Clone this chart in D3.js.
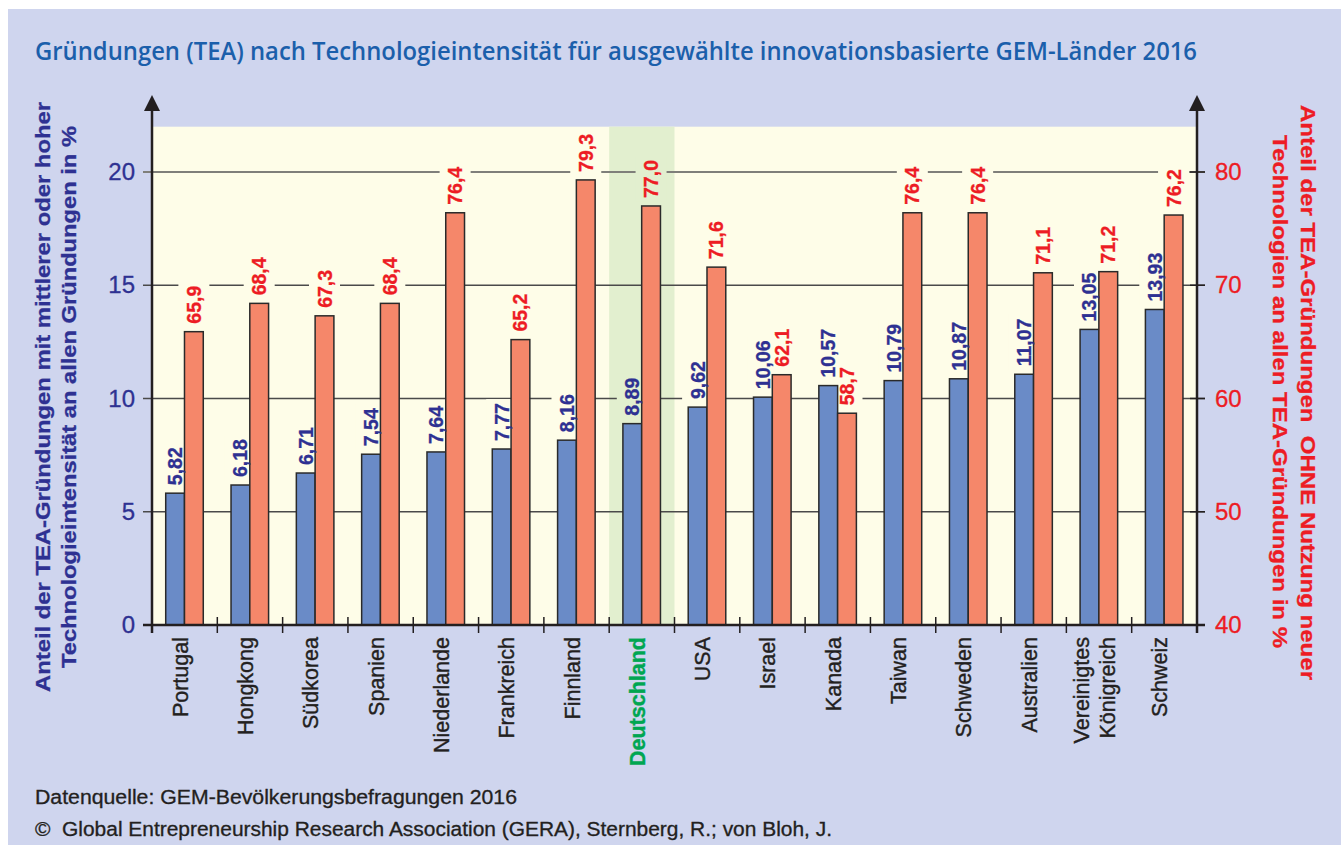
<!DOCTYPE html>
<html>
<head>
<meta charset="utf-8">
<script src="https://cdn.jsdelivr.net/npm/d3@7"></script>
<style>
  body { margin: 0; background: #fff; }
  svg { display: block; font-family: "Liberation Sans", Arial, sans-serif; }
</style>
</head>
<body>
<script>
// data
const countries = ["Portugal", "Hongkong", "Südkorea", "Spanien", "Niederlande", "Frankreich", "Finnland",
  "Deutschland", "USA", "Israel", "Kanada", "Taiwan", "Schweden", "Australien", "Vereinigtes Königreich", "Schweiz"];
const techShare = [5.82, 6.18, 6.71, 7.54, 7.64, 7.77, 8.16, 8.89, 9.62, 10.06, 10.57, 10.79, 10.87, 11.07, 13.05, 13.93];
const noNewTech = [65.9, 68.4, 67.3, 68.4, 76.4, 65.2, 79.3, 77.0, 71.6, 62.1, 58.7, 76.4, 76.4, 71.1, 71.2, 76.2];
const leftTicks = [0, 5, 10, 15, 20];
const rightTicks = [40, 50, 60, 70, 80];
const highlight = "Deutschland";

const W = 1341, H = 845;
const panelBg = "#cfd5ee", plotBg = "#fefde8", bandBg = "#e2efcf";
const blue = "#6a8bc7", red = "#f5876a", navy = "#2e3192", redText = "#ed1c24", ink = "#231f20";

const svg = d3.select("body").append("svg").attr("width", W).attr("height", H);

const x = d3.scaleBand().domain(countries).range([152, 1197]);
const yL = d3.scaleLinear().domain([0, 22]).range([625, 126.7]);
const yR = d3.scaleLinear().domain([40, 84]).range([625, 126.7]);
const bw = x.bandwidth();
const sub = d3.scaleBand().domain(["tech", "none"]).range([bw * 0.21, bw * 0.785]);

const fmt = (v, n) => v.toFixed(n).replace(".", ",");

// background
svg.append("rect").attr("x", 8).attr("y", 9).attr("width", W - 8).attr("height", H - 9).attr("fill", panelBg);
svg.append("rect").attr("x", 152).attr("y", yL(22)).attr("width", 1197 - 152).attr("height", yL(0) - yL(22)).attr("fill", plotBg);
svg.append("rect").attr("x", x(highlight)).attr("y", yL(22)).attr("width", bw).attr("height", yL(0) - yL(22)).attr("fill", bandBg);

// title
svg.append("text")
  .attr("x", 35).attr("y", 60)
  .attr("textLength", 1162).attr("lengthAdjust", "spacingAndGlyphs")
  .style("font-family", "'Open Sans', 'Noto Sans', sans-serif")
  .style("font-size", "25px").style("font-weight", 600).attr("fill", "#1b5fab")
  .text("Gründungen (TEA) nach Technologieintensität für ausgewählte innovationsbasierte GEM-Länder 2016");

// gridlines
svg.append("g").selectAll("line").data(leftTicks.filter(d => d > 0)).join("line")
  .attr("x1", 143).attr("x2", 1205)
  .attr("y1", d => yL(d)).attr("y2", d => yL(d))
  .attr("stroke", d => d === 20 ? "#7f7f7a" : "#4a4a4a")
  .attr("stroke-width", d => d === 20 ? 2 : 1.5);

// series layout
const series = [
  {key: "tech", values: techShare, y: yL, fill: blue, text: navy, dec: 2},
  {key: "none", values: noNewTech, y: yR, fill: red, text: redText, dec: 1}
];
const labelSize = 19.5;
const marks = [];
series.forEach(s => {
  countries.forEach((c, i) => {
    const v = s.values[i];
    const label = fmt(v, s.dec);
    marks.push({
      c, v, s, label,
      x0: x(c) + sub(s.key),
      cx: x(c) + sub(s.key) + sub.bandwidth() / 2,
      top: s.y(v),
      len: label.length * 0.556 * labelSize - (0.556 - 0.278) * labelSize
    });
  });
});

// halos behind value labels (cut the gridlines)
svg.append("g").selectAll("rect").data(marks).join("rect")
  .attr("x", d => d.cx - 15.5)
  .attr("width", 31)
  .attr("y", d => d.top - 8 - d.len - 4)
  .attr("height", d => d.len + 8)
  .attr("fill", d => d.c === highlight ? bandBg : plotBg);

// bars
svg.append("g").selectAll("rect").data(marks).join("rect")
  .attr("x", d => d.x0)
  .attr("width", sub.bandwidth())
  .attr("y", d => d.top)
  .attr("height", d => yL(0) - d.top)
  .attr("fill", d => d.s.fill)
  .attr("stroke", "#2a2a2a").attr("stroke-width", 1.5);

// value labels
svg.append("g").selectAll("text").data(marks).join("text")
  .attr("transform", d => `translate(${d.cx + 7},${d.top - 8}) rotate(-90)`)
  .style("font-size", labelSize + "px").style("font-weight", "bold")
  .attr("fill", d => d.s.text)
  .attr("stroke", d => d.s.text).attr("stroke-width", 0.3)
  .text(d => d.label);

// x axis line and boundary ticks
const axis = svg.append("g").attr("stroke", ink);
axis.append("line").attr("x1", 143).attr("x2", 1205).attr("y1", yL(0)).attr("y2", yL(0)).attr("stroke-width", 2.5);
axis.selectAll("line.tick").data(countries.map(c => x(c)).concat([x.range()[1]])).join("line")
  .attr("class", "tick")
  .attr("x1", d => d).attr("x2", d => d)
  .attr("y1", yL(0) - 8).attr("y2", yL(0) + 8)
  .attr("stroke-width", 1.5);

// vertical axes with arrows
[152, 1197].forEach(ax => {
  axis.append("line").attr("x1", ax).attr("x2", ax).attr("y1", yL(0) + 8).attr("y2", 106).attr("stroke-width", 2.5);
  svg.append("path").attr("d", `M${ax},95 L${ax - 8},111 L${ax + 8},111 Z`).attr("fill", ink);
});
axis.selectAll("line.rt").data(rightTicks).join("line")
  .attr("class", "rt")
  .attr("x1", 1190).attr("x2", 1205)
  .attr("y1", d => yR(d)).attr("y2", d => yR(d))
  .attr("stroke-width", 1.5);

// tick labels
const yAxisL = d3.axisLeft(yL).tickValues(leftTicks).tickSize(0).tickPadding(0);
svg.append("g").attr("transform", "translate(135,0)").call(yAxisL)
  .call(g => g.select(".domain").remove())
  .call(g => g.selectAll("text").attr("fill", navy).attr("stroke", navy).attr("stroke-width", 0.3)
    .style("font-size", "24px").style("font-family", "'Liberation Sans', Arial, sans-serif"));
const yAxisR = d3.axisRight(yR).tickValues(rightTicks).tickSize(0).tickPadding(0);
svg.append("g").attr("transform", "translate(1215,0)").call(yAxisR)
  .call(g => g.select(".domain").remove())
  .call(g => g.selectAll("text").attr("fill", redText).attr("stroke", redText).attr("stroke-width", 0.3)
    .style("font-size", "24px").style("font-family", "'Liberation Sans', Arial, sans-serif"));

// category labels
const cat = svg.append("g").selectAll("text").data(countries).join("text")
  .attr("transform", d => `translate(${x(d) + bw / 2 + 3},637) rotate(-90)`)
  .attr("text-anchor", "end")
  .style("font-size", "21.5px")
  .style("font-weight", d => d === highlight ? "bold" : "normal")
  .attr("fill", d => d === highlight ? "#00a651" : "#231f20")
  .attr("stroke", d => d === highlight ? "#00a651" : "#231f20")
  .attr("stroke-width", 0.4);
cat.each(function (d) {
  const parts = d.split(" ");
  const t = d3.select(this);
  if (parts.length === 1) {
    t.text(d);
  } else {
    parts.forEach((p, i) => {
      t.append("tspan").attr("x", 0).attr("y", (i - (parts.length - 1) / 2) * 26).text(p);
    });
  }
});

// axis titles
const leftTitle = [
  {t: "Anteil der TEA-Gründungen mit mittlerer oder hoher", bx: 49.5, len: 590},
  {t: "Technologieintensität an allen Gründungen in %", bx: 76, len: 542}
];
svg.append("g").selectAll("text").data(leftTitle).join("text")
  .attr("transform", d => `translate(${d.bx},397) rotate(-90)`)
  .attr("text-anchor", "middle")
  .attr("textLength", d => d.len).attr("lengthAdjust", "spacingAndGlyphs")
  .style("font-size", "20px").style("font-weight", "bold").attr("fill", navy)
  .attr("stroke", navy).attr("stroke-width", 0.3)
  .text(d => d.t);

const rightTitle = [
  {t: "Anteil der TEA-Gründungen  OHNE Nutzung neuer", bx: 1300.5, cy: 392.5, len: 575},
  {t: "Technologien an allen TEA-Gründungen in %", bx: 1272.5, cy: 391.5, len: 513}
];
svg.append("g").selectAll("text").data(rightTitle).join("text")
  .attr("transform", d => `translate(${d.bx},${d.cy}) rotate(90)`)
  .attr("text-anchor", "middle")
  .attr("textLength", d => d.len).attr("lengthAdjust", "spacingAndGlyphs")
  .style("font-size", "20px").style("font-weight", "bold").attr("fill", redText)
  .attr("stroke", redText).attr("stroke-width", 0.3)
  .style("white-space", "pre")
  .text(d => d.t);

// footer
const footer = [
  {t: "Datenquelle: GEM-Bevölkerungsbefragungen 2016", y: 804, len: 482},
  {t: "©  Global Entrepreneurship Research Association (GERA), Sternberg, R.; von Bloh, J.", y: 836, len: 797}
];
svg.append("g").selectAll("text").data(footer).join("text")
  .attr("x", 35).attr("y", d => d.y)
  .attr("textLength", d => d.len).attr("lengthAdjust", "spacingAndGlyphs")
  .style("font-size", "19.5px").attr("fill", "#231f20")
  .attr("stroke", "#231f20").attr("stroke-width", 0.3)
  .style("white-space", "pre")
  .text(d => d.t);
</script>
</body>
</html>
